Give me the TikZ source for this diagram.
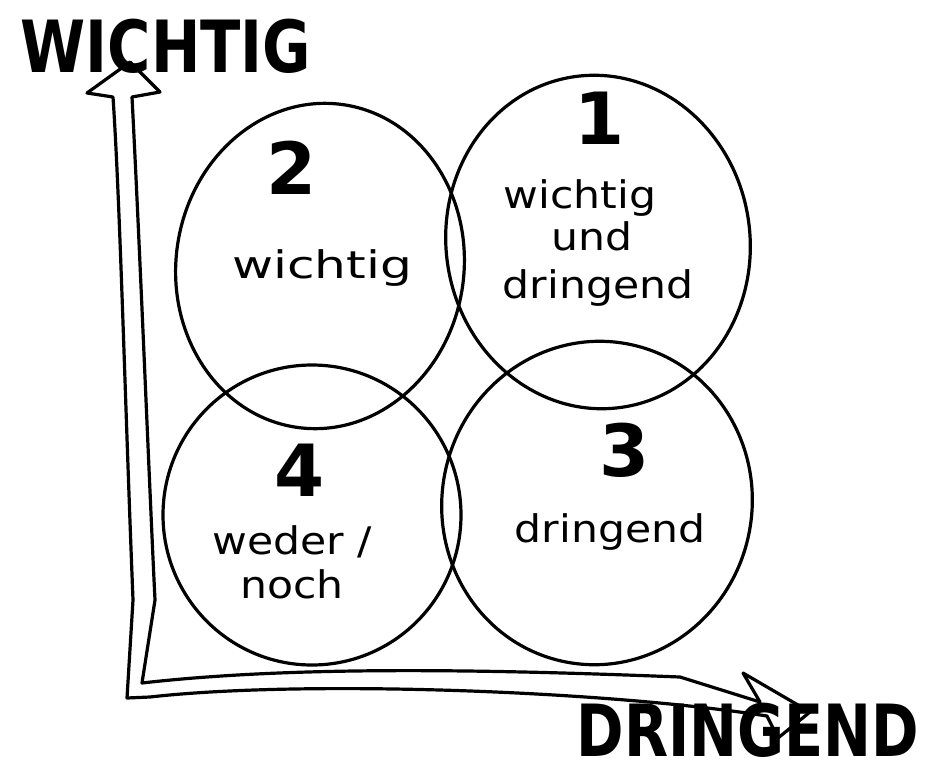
\documentclass[tikz,border=0pt]{standalone}
\usepackage{fontspec}
\setmainfont{DejaVu Sans}
\usetikzlibrary{shapes.geometric}
\tikzset{
  egg/.style={ellipse, draw=black, line width=3.2pt, inner sep=0pt},
  axisline/.style={draw=black, line width=3.2pt, line join=round, line cap=round},
  title/.style={font=\fontsize{72}{72}\selectfont\bfseries, inner sep=0pt, xscale=0.82},
  num/.style={font=\fontsize{72}{72}\selectfont\bfseries, inner sep=0pt},
  lbl/.style={font=\fontsize{38}{44}\selectfont, inner sep=0pt, align=center, xscale=1.12},
}
\begin{document}
\begin{tikzpicture}[x=1pt,y=-1pt]
\useasboundingbox (0,0) rectangle (936,773);
% quadrants
\node[egg, minimum width=288, minimum height=326, rotate=-8] (q2) at (320,266) {};
\node[egg, minimum width=304, minimum height=334, rotate=8] (q1) at (598,242) {};
\node[egg, minimum width=298, minimum height=300] (q4) at (312,515) {};
\node[egg, minimum width=310, minimum height=324, rotate=-12] (q3) at (597,503) {};
% hollow axis arrows
\coordinate (vtip) at (130,62);
\coordinate (vwl) at (87,93);
\coordinate (vsl) at (113,97);
\coordinate (vsr) at (132,97);
\coordinate (vwr) at (160,92);
\coordinate (oc) at (127,698);
\coordinate (ic) at (142,683);
\coordinate (hwt) at (743,673);
\coordinate (hst) at (760,702);
\coordinate (htip) at (810,712);
\coordinate (hsb) at (767,716);
\coordinate (hwb) at (778,738);
\path[axisline] (vsl) -- (vwl) -- (vtip) -- (vwr) -- (vsr)
  .. controls (140,250) and (150,500) .. (155,600) -- (ic)
  .. controls (300,665) and (500,670) .. (680,677) -- (hst) -- (hwt) -- (htip)
  -- (hwb) -- (hsb) .. controls (600,690) and (300,680) .. (150,697) -- (oc)
  -- (133,600) .. controls (125,400) and (120,200) .. (vsl);
% axis titles
\node[title] (wichtigT) at (166,46) {WICHTIG};
\node[title, xscale=0.97] (dringendT) at (748,730) {DRINGEND};
% numbers
\node[num] (n2) at (292,168) {2};
\node[num] (n1) at (600,118) {1};
\node[num] (n4) at (300,470) {4};
\node[num] (n3) at (625,450) {3};
% labels
\node[lbl, xscale=1.18] (l2) at (322,268) {wichtig};
\node[lbl] (l1a) at (580,198) {wichtig};
\node[lbl] (l1b) at (592,236) {und};
\node[lbl] (l1c) at (598,288) {dringend};
\node[lbl] (l4) at (292,562) {weder /\\noch};
\node[lbl] (l3) at (610,532) {dringend};
\end{tikzpicture}
\end{document}
